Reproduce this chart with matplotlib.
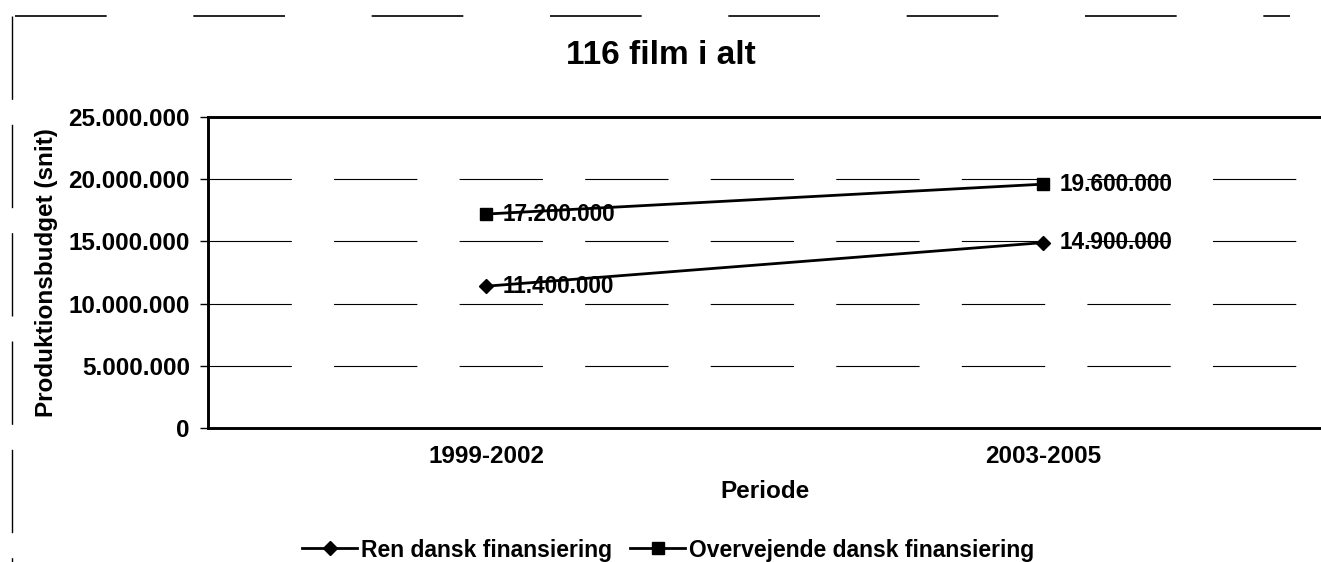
import matplotlib
matplotlib.use("Agg")
import matplotlib.pyplot as plt
from matplotlib.lines import Line2D
from matplotlib.ticker import FuncFormatter, MultipleLocator

plt.rcParams['font.family'] = ['Liberation Sans', 'DejaVu Sans']
plt.rcParams['font.weight'] = 'bold'

categories = ["1999-2002", "2003-2005"]
series_names = ["Ren dansk finansiering", "Overvejende dansk finansiering"]
ren_dansk = [11400000, 14900000]
overvejende = [17200000, 19600000]
title = "116 film i alt"
ylabel = "Produktionsbudget (snit)"
xlabel = "Periode"

def fmt(v, pos=None):
    return f"{int(round(v)):,}".replace(",", ".")

W, H = 1321, 562
fig = plt.figure(figsize=(W / 100, H / 100), dpi=100)
ax = fig.add_axes([208 / W, 1 - 428 / H, 1113 / W, 311 / H])

x = list(range(len(categories)))
ax.plot(x, ren_dansk, color='black', lw=2.0, marker='D', ms=7, zorder=5)
ax.plot(x, overvejende, color='black', lw=2.0, marker='s', ms=8.5, zorder=5)

for xi, v in zip(x, ren_dansk):
    ax.annotate(fmt(v), (xi, v), xytext=(12, 0), textcoords='offset points',
                ha='left', va='center', fontsize=16.3, fontweight='bold', zorder=3)
for xi, v in zip(x, overvejende):
    ax.annotate(fmt(v), (xi, v), xytext=(12, 0), textcoords='offset points',
                ha='left', va='center', fontsize=16.3, fontweight='bold', zorder=3)

ax.set_xlim(-0.5, 1.5)
ax.set_ylim(0, 25000000)
ax.yaxis.set_major_locator(MultipleLocator(5000000))
ax.yaxis.set_major_formatter(FuncFormatter(fmt))
ax.set_xticks(x)
ax.set_xticklabels(categories)
ax.grid(axis='y', color='black', lw=0.8, linestyle=(0, (75, 38)), zorder=1)
ax.set_axisbelow(True)

ax.tick_params(axis='y', direction='out', length=6, width=1, pad=7, labelsize=17.5)
ax.tick_params(axis='x', length=0, pad=12, labelsize=17.5)
for lab in ax.get_xticklabels() + ax.get_yticklabels():
    lab.set_fontweight('bold')

for s in ['left', 'bottom', 'top']:
    ax.spines[s].set_linewidth(2.1)
    ax.spines[s].set_color('black')
ax.spines['right'].set_visible(False)

ax.set_ylabel(ylabel, fontsize=17.5, fontweight='bold')
ax.yaxis.set_label_coords((58 - 208) / 1113, 0.5)
ax.set_xlabel(xlabel, fontsize=17.5, fontweight='bold')
ax.xaxis.set_label_coords(0.5, -(480 - 428) / 311)

fig.text(0.5, 1 - 55 / H, title, ha='center', va='center', fontsize=24, fontweight='bold')

handles = [Line2D([], [], color='black', lw=2.0, marker='D', ms=7),
           Line2D([], [], color='black', lw=2.0, marker='s', ms=8.5)]
fig.legend(handles, series_names, loc='center', bbox_to_anchor=(668 / W, 1 - 550 / H),
           ncol=2, frameon=False, handlelength=2.4, handletextpad=0.15,
           columnspacing=0.8, prop={'weight': 'bold', 'size': 16.5})

# outer chart border remnants (scanned)
fig.add_artist(Line2D([15 / W, 1290 / W], [1 - 16 / H, 1 - 16 / H], transform=fig.transFigure,
                      color='black', lw=1.2, linestyle=(0, (55, 52))))
fig.add_artist(Line2D([12 / W, 12 / W], [1 - 16 / H, 0], transform=fig.transFigure,
                      color='black', lw=1.0, linestyle=(0, (60, 18))))

fig.savefig("out.png", dpi=100)
